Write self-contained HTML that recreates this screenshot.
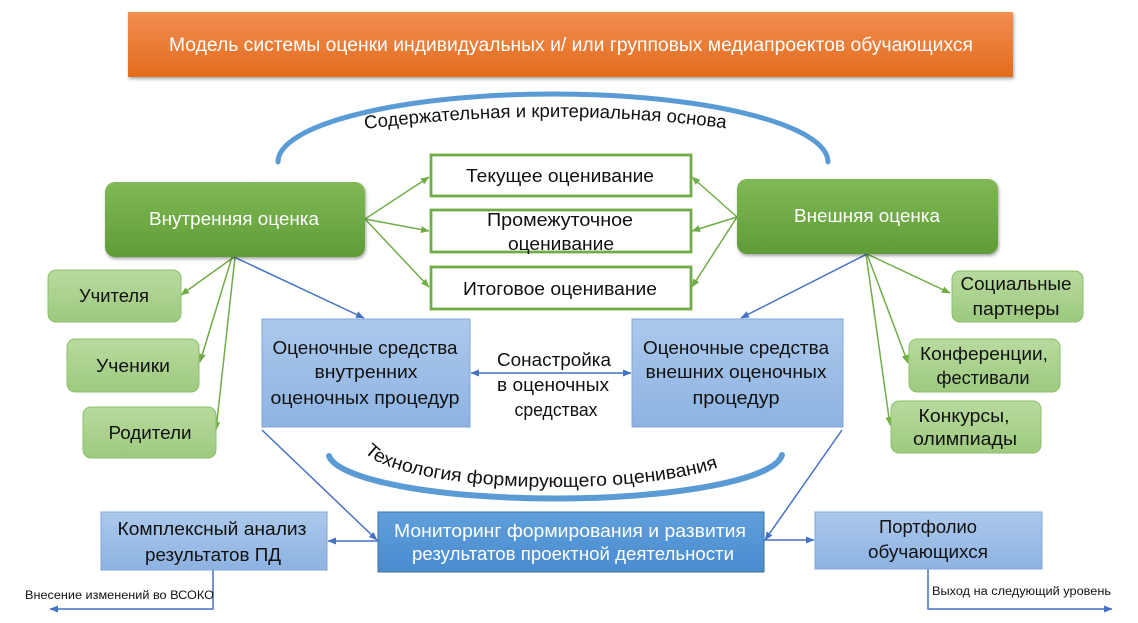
<!DOCTYPE html>
<html><head><meta charset="utf-8">
<style>html,body{margin:0;padding:0;background:#fff;}svg{display:block}</style>
</head><body>
<svg width="1138" height="623" viewBox="0 0 1138 623" xmlns="http://www.w3.org/2000/svg" font-family="'Liberation Sans', sans-serif">
<defs>
<linearGradient id="og" x1="0" y1="0" x2="0" y2="1"><stop offset="0" stop-color="#f28d52"/><stop offset="1" stop-color="#e36c1c"/></linearGradient>
<linearGradient id="gg" x1="0" y1="0" x2="0" y2="1"><stop offset="0" stop-color="#80b955"/><stop offset="1" stop-color="#5f9c37"/></linearGradient>
<linearGradient id="lg" x1="0" y1="0" x2="0" y2="1"><stop offset="0" stop-color="#b8da9f"/><stop offset="1" stop-color="#9dca7e"/></linearGradient>
<linearGradient id="bg" x1="0" y1="0" x2="0" y2="1"><stop offset="0" stop-color="#acc8eb"/><stop offset="1" stop-color="#8db3e2"/></linearGradient>
<linearGradient id="dg" x1="0" y1="0" x2="0" y2="1"><stop offset="0" stop-color="#5f9fda"/><stop offset="1" stop-color="#4a8bd0"/></linearGradient>
<filter id="sh" x="-10%" y="-20%" width="120%" height="150%"><feDropShadow dx="1" dy="2" stdDeviation="1.5" flood-opacity="0.35"/></filter>
<marker id="ag" markerWidth="9" markerHeight="9" refX="8" refY="4.5" orient="auto" markerUnits="userSpaceOnUse"><path d="M0,1 L8.5,4.5 L0,8z" fill="#70ad47"/></marker>
<marker id="ab" markerWidth="9" markerHeight="9" refX="8" refY="4.5" orient="auto" markerUnits="userSpaceOnUse"><path d="M0,1 L8.5,4.5 L0,8z" fill="#4472c4"/></marker>
<marker id="abs" markerWidth="9" markerHeight="9" refX="8" refY="4.5" orient="auto-start-reverse" markerUnits="userSpaceOnUse"><path d="M0,1 L8.5,4.5 L0,8z" fill="#4472c4"/></marker>
<path id="tp1" d="M350,131 Q553,103 745,131"/>
<path id="tp2" d="M362,445 A193,42 0 0 0 748,445"/>
</defs>

<!-- header -->
<rect x="128" y="12" width="885" height="65" fill="url(#og)" filter="url(#sh)"/>
<text x="571" y="51" font-size="19" fill="#fff" text-anchor="middle" textLength="804" lengthAdjust="spacingAndGlyphs">Модель системы оценки индивидуальных и/ или групповых медиапроектов обучающихся</text>

<!-- top arc -->
<path d="M278,162 A275,68 0 0 1 828,162" fill="none" stroke="#5b9bd5" stroke-width="5" stroke-linecap="round"/>
<text font-size="18.5" fill="#111"><textPath href="#tp1" startOffset="15" textLength="362" lengthAdjust="spacingAndGlyphs">Содержательная и критериальная основа</textPath></text>

<!-- connectors green -->
<g stroke="#70ad47" stroke-width="1.5" fill="none" marker-end="url(#ag)">
<line x1="365" y1="219" x2="429" y2="177"/>
<line x1="365" y1="219" x2="429" y2="231"/>
<line x1="365" y1="219" x2="429" y2="287"/>
<line x1="737" y1="217" x2="692" y2="177"/>
<line x1="737" y1="217" x2="692" y2="231"/>
<line x1="737" y1="217" x2="692" y2="287"/>
<line x1="234" y1="257" x2="181" y2="295"/>
<line x1="232" y1="257" x2="200" y2="362"/>
<line x1="235" y1="257" x2="216" y2="430"/>
<line x1="867" y1="254" x2="950" y2="293"/>
<line x1="867" y1="254" x2="908" y2="363"/>
<line x1="866" y1="254" x2="890" y2="425"/>
</g>
<!-- connectors blue -->
<g stroke="#4472c4" stroke-width="1.5" fill="none" marker-end="url(#ab)">
<line x1="234" y1="257" x2="364" y2="318"/>
<line x1="867" y1="254" x2="741" y2="318"/>
<line x1="262" y1="430" x2="377" y2="540"/>
<line x1="842" y1="430" x2="765" y2="540"/>
<line x1="378" y1="541" x2="328" y2="541"/>
<line x1="764" y1="540" x2="814" y2="540"/>
<polyline points="213,570 213,609 50,609"/>
<polyline points="928,569 928,609 1112,609"/>
<line x1="471" y1="373" x2="631" y2="373" marker-start="url(#abs)" marker-end="url(#abs)"/>
</g>

<!-- main green boxes -->
<rect x="105" y="182" width="260" height="75" rx="10" fill="url(#gg)" filter="url(#sh)"/>
<text x="234" y="225" font-size="18.5" fill="#fff" text-anchor="middle" textLength="170" lengthAdjust="spacingAndGlyphs">Внутренняя оценка</text>
<rect x="737" y="179" width="261" height="75" rx="10" fill="url(#gg)" filter="url(#sh)"/>
<text x="867" y="222" font-size="18.5" fill="#fff" text-anchor="middle" textLength="146" lengthAdjust="spacingAndGlyphs">Внешняя оценка</text>

<!-- assessment boxes -->
<g fill="#fff" stroke="#70ad47" stroke-width="2.8">
<rect x="431" y="155" width="260" height="41"/>
<rect x="431" y="210" width="260" height="42"/>
<rect x="431" y="267" width="260" height="42"/>
</g>
<g font-size="18.5" fill="#111" text-anchor="middle">
<text x="560" y="182" textLength="188" lengthAdjust="spacingAndGlyphs">Текущее оценивание</text>
<text x="560" y="226" textLength="146" lengthAdjust="spacingAndGlyphs">Промежуточное</text>
<text x="561" y="250" textLength="106" lengthAdjust="spacingAndGlyphs">оценивание</text>
<text x="560" y="295" textLength="194" lengthAdjust="spacingAndGlyphs">Итоговое оценивание</text>
</g>

<!-- light green boxes -->
<g fill="url(#lg)" stroke="#8cbf6a" stroke-width="1">
<rect x="48" y="270" width="133" height="52" rx="8"/>
<rect x="67" y="339" width="132" height="53" rx="8"/>
<rect x="83" y="407" width="133" height="51" rx="8"/>
<rect x="952" y="271" width="131" height="51" rx="8"/>
<rect x="909" y="339" width="151" height="53" rx="8"/>
<rect x="891" y="401" width="150" height="52" rx="8"/>
</g>
<g font-size="18.5" fill="#111" text-anchor="middle">
<text x="114" y="302" textLength="70" lengthAdjust="spacingAndGlyphs">Учителя</text>
<text x="133" y="372" textLength="74" lengthAdjust="spacingAndGlyphs">Ученики</text>
<text x="150" y="439" textLength="83" lengthAdjust="spacingAndGlyphs">Родители</text>
<text x="1016" y="290" textLength="111" lengthAdjust="spacingAndGlyphs">Социальные</text>
<text x="1016" y="315" textLength="87" lengthAdjust="spacingAndGlyphs">партнеры</text>
<text x="984" y="360" textLength="128" lengthAdjust="spacingAndGlyphs">Конференции,</text>
<text x="983" y="384" textLength="93" lengthAdjust="spacingAndGlyphs">фестивали</text>
<text x="964" y="422" textLength="91" lengthAdjust="spacingAndGlyphs">Конкурсы,</text>
<text x="965" y="445" textLength="104" lengthAdjust="spacingAndGlyphs">олимпиады</text>
</g>

<!-- blue boxes -->
<g fill="url(#bg)" stroke="#7fa7d6" stroke-width="1">
<rect x="262" y="319" width="208" height="108"/>
<rect x="632" y="319" width="211" height="108"/>
<rect x="101" y="512" width="226" height="58"/>
<rect x="815" y="512" width="227" height="57"/>
</g>
<rect x="378" y="512" width="386" height="60" fill="url(#dg)" stroke="#41719c" stroke-width="1"/>

<g font-size="18.5" fill="#111" text-anchor="middle">
<text x="365" y="354" textLength="185" lengthAdjust="spacingAndGlyphs">Оценочные средства</text>
<text x="366" y="378" textLength="103" lengthAdjust="spacingAndGlyphs">внутренних</text>
<text x="365" y="404" textLength="189" lengthAdjust="spacingAndGlyphs">оценочных процедур</text>
<text x="736" y="354" textLength="186" lengthAdjust="spacingAndGlyphs">Оценочные средства</text>
<text x="736" y="378" textLength="181" lengthAdjust="spacingAndGlyphs">внешних оценочных</text>
<text x="736" y="404" textLength="87" lengthAdjust="spacingAndGlyphs">процедур</text>
<text x="554" y="366" textLength="114" lengthAdjust="spacingAndGlyphs">Сонастройка</text>
<text x="553" y="391" textLength="112" lengthAdjust="spacingAndGlyphs">в оценочных</text>
<text x="556" y="416" textLength="83" lengthAdjust="spacingAndGlyphs">средствах</text>
<text x="212" y="535" textLength="189" lengthAdjust="spacingAndGlyphs">Комплексный анализ</text>
<text x="213" y="561" textLength="136" lengthAdjust="spacingAndGlyphs">результатов ПД</text>
<text x="928" y="533" textLength="98" lengthAdjust="spacingAndGlyphs">Портфолио</text>
<text x="928" y="558" textLength="120" lengthAdjust="spacingAndGlyphs">обучающихся</text>
</g>
<g font-size="18.5" fill="#fff" text-anchor="middle">
<text x="570" y="537" textLength="352" lengthAdjust="spacingAndGlyphs">Мониторинг формирования и развития</text>
<text x="573" y="560" textLength="322" lengthAdjust="spacingAndGlyphs">результатов проектной деятельности</text>
</g>

<!-- bottom arc -->
<path d="M329,456 A227,46 0 0 0 782,455" fill="none" stroke="#5b9bd5" stroke-width="6" stroke-linecap="round"/>
<text font-size="18.5" fill="#111"><textPath href="#tp2" startOffset="7" textLength="362" lengthAdjust="spacingAndGlyphs">Технология формирующего оценивания</textPath></text>

<!-- small labels -->
<text x="25" y="599" font-size="11.5" fill="#111" textLength="189" lengthAdjust="spacingAndGlyphs">Внесение изменений во ВСОКО</text>
<text x="932" y="595" font-size="11.5" fill="#111" textLength="179" lengthAdjust="spacingAndGlyphs">Выход на следующий уровень</text>
</svg>
</body></html>
